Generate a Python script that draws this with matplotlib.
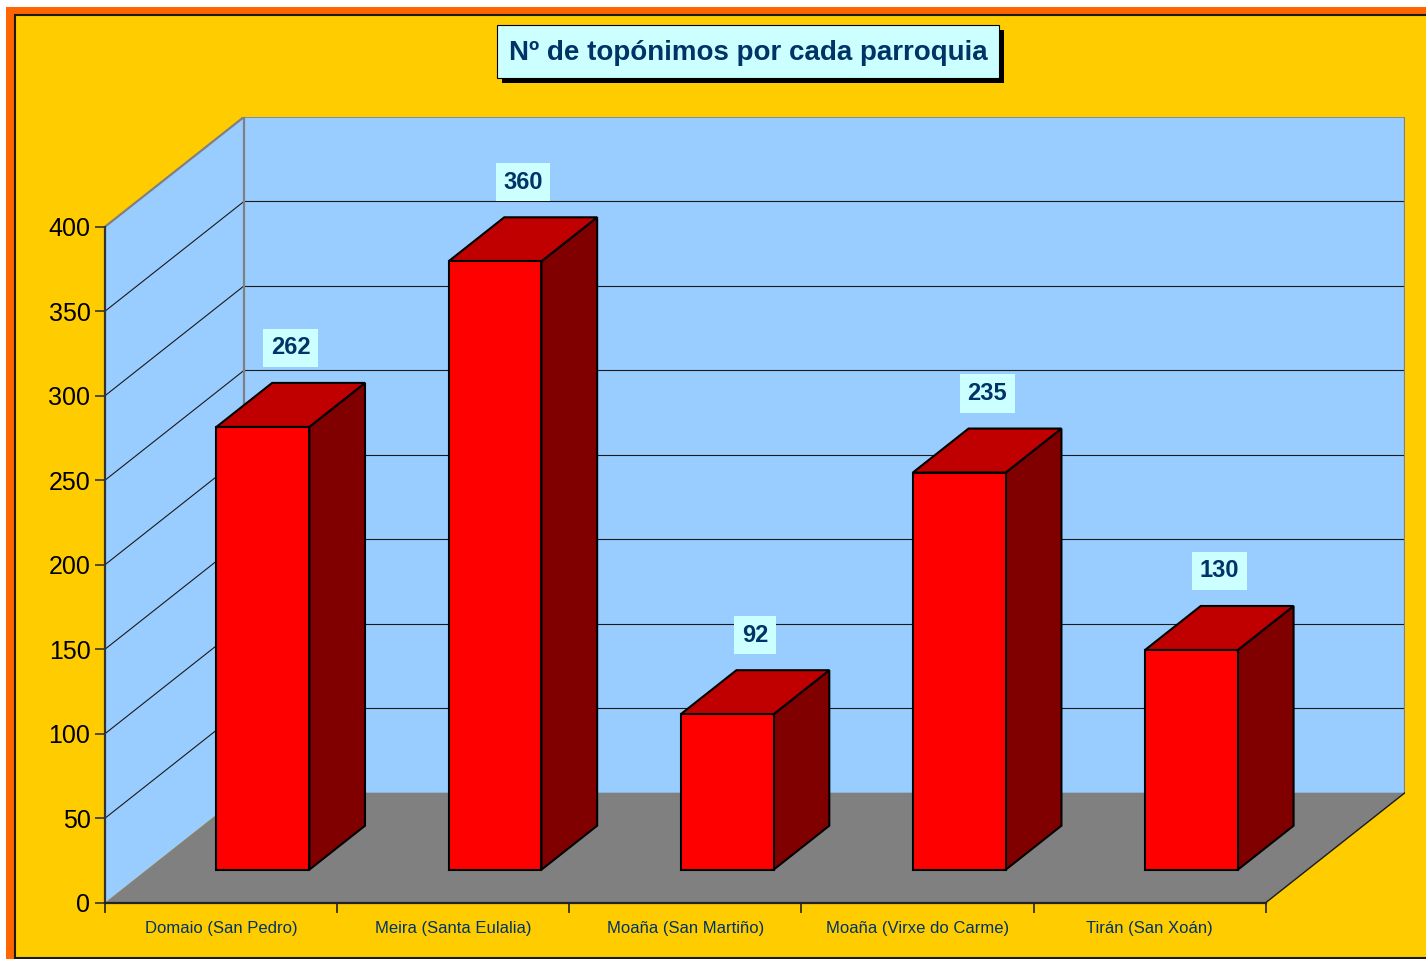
import matplotlib
matplotlib.use("Agg")
import matplotlib.pyplot as plt
from matplotlib.patches import Polygon, Rectangle

plt.rcParams['font.family'] = ['Liberation Sans', 'DejaVu Sans']

# ---- data ----
categories = ["Domaio (San Pedro)", "Meira (Santa Eulalia)", "Moaña (San Martiño)",
              "Moaña (Virxe do Carme)", "Tirán (San Xoán)"]
values = [262, 360, 92, 235, 130]
y_ticks = [0, 50, 100, 150, 200, 250, 300, 350, 400]
title = "Nº de topónimos por cada parroquia"

# ---- style ----
W, H = 1426, 959
C_OUTER = "#FF6600"
C_AREA = "#FFCC00"
C_WALL = "#99CCFF"
C_FLOOR = "#808080"
C_FRONT = "#FF0000"
C_TOP = "#C00000"
C_SIDE = "#800000"
C_LABEL_BG = "#CCFFFF"
C_NAVY = "#003366"

DX = 0.6      # depth offset in category units
DY = 65.1     # depth offset in value units
YMAX = 400
D0, D1 = 0.3, 0.7   # bar depth extent
BW = 0.4            # bar width (category units)

fig = plt.figure(figsize=(W / 100, H / 100), dpi=100)
fig.patch.set_facecolor("white")


def fpx(x, y):
    return (x / W, 1 - y / H)


def frect(x0, y0, x1, y1, **kw):
    a = fpx(x0, y1)
    r = Rectangle(a, (x1 - x0) / W, (y1 - y0) / H, transform=fig.transFigure, **kw)
    fig.add_artist(r)
    return r


# outer frame and chart area
frect(6, 7, 1460, 990, facecolor=C_OUTER, edgecolor="none", zorder=0)
frect(14.5, 15, 1460, 957.5, facecolor=C_AREA, edgecolor="#1a1a1a", linewidth=1.5, zorder=0.5)

# plot axes (front plane origin at pixel 105, 902.7; back wall extends to 1405, 116.7)
left, right, top, bottom = 105, 1405, 116.7, 902.7
ax = fig.add_axes([left / W, 1 - bottom / H, (right - left) / W, (bottom - top) / H])
ax.set_zorder(2)
ax.set_facecolor("none")
n = len(categories)
ax.set_xlim(0, n + DX)
ax.set_ylim(0, YMAX + DY)

# walls & floor
ax.add_patch(Polygon([(0, 0), (0, YMAX), (DX, YMAX + DY), (DX, DY)], closed=True,
                     facecolor=C_WALL, edgecolor="none", zorder=1))
ax.add_patch(Polygon([(DX, DY), (DX, YMAX + DY), (n + DX, YMAX + DY), (n + DX, DY)], closed=True,
                     facecolor=C_WALL, edgecolor="none", zorder=1))
ax.add_patch(Polygon([(0, 0), (n, 0), (n + DX, DY), (DX, DY)], closed=True,
                     facecolor=C_FLOOR, edgecolor="none", zorder=1))

# gridlines
for v in y_ticks[1:-1]:
    ax.plot([0, DX], [v, v + DY], color="#1a1a1a", lw=0.8, zorder=2)
    ax.plot([DX, n + DX], [v + DY, v + DY], color="#1a1a1a", lw=0.8, zorder=2)

# wall outlines
ax.plot([0, DX, n + DX, n + DX], [YMAX, YMAX + DY, YMAX + DY, DY], color="#808080", lw=1.6, zorder=2)
ax.plot([DX, DX], [DY, YMAX + DY], color="#808080", lw=1.6, zorder=2)
ax.plot([n, n + DX], [0, DY], color="#1a1a1a", lw=1.0, zorder=2)

# bars
for i, v in enumerate(values):
    x0 = i + (1 - BW) / 2
    x1 = x0 + BW
    f = [(x0 + D0 * DX, D0 * DY), (x1 + D0 * DX, D0 * DY), (x1 + D0 * DX, v + D0 * DY), (x0 + D0 * DX, v + D0 * DY)]
    t = [(x0 + D0 * DX, v + D0 * DY), (x1 + D0 * DX, v + D0 * DY), (x1 + D1 * DX, v + D1 * DY), (x0 + D1 * DX, v + D1 * DY)]
    s = [(x1 + D0 * DX, D0 * DY), (x1 + D1 * DX, D1 * DY), (x1 + D1 * DX, v + D1 * DY), (x1 + D0 * DX, v + D0 * DY)]
    for poly, c in ((s, C_SIDE), (t, C_TOP), (f, C_FRONT)):
        ax.add_patch(Polygon(poly, closed=True, facecolor=c, edgecolor="black", lw=1.5,
                             joinstyle="miter", zorder=3))
    ax.annotate(str(v), xy=(i + 0.5 + 0.5 * DX, v + 0.5 * DY), xytext=(0, 57),
                textcoords="offset pixels", ha="center", va="center",
                fontsize=17, fontweight="bold", color=C_NAVY, zorder=5,
                bbox=dict(boxstyle="square,pad=0.32", facecolor=C_LABEL_BG, edgecolor="none"))

# axes styling
for sp in ("top", "right"):
    ax.spines[sp].set_visible(False)
ax.spines["left"].set_bounds(0, YMAX)
ax.spines["bottom"].set_bounds(0, n)
ax.spines["left"].set_color("#333333")
ax.spines["bottom"].set_color("#222222")
ax.spines["left"].set_linewidth(1.6)
ax.spines["bottom"].set_linewidth(1.6)
ax.spines["left"].set_zorder(4)
ax.spines["bottom"].set_zorder(4)

ax.set_yticks(y_ticks)
ax.set_yticklabels([str(v) for v in y_ticks])
ax.tick_params(axis="y", which="major", length=7.5, width=1.2, color="#333333",
               labelsize=18, labelcolor="black", pad=3)

ax.set_xticks(range(n + 1))
ax.set_xticklabels([""] * (n + 1))
ax.set_xticks([i + 0.5 for i in range(n)], minor=True)
ax.set_xticklabels(categories, minor=True)
ax.tick_params(axis="x", which="major", length=7.5, width=1.2, color="#222222")
ax.tick_params(axis="x", which="minor", length=0, labelsize=12, labelcolor=C_NAVY, pad=13)

# title box with shadow
frect(502, 30, 1004, 83, facecolor="black", edgecolor="none", zorder=6)
frect(497, 25, 999, 78, facecolor=C_LABEL_BG, edgecolor="black", linewidth=0.8, zorder=7)
fig.text(748 / W, 1 - 60 / H, title, ha="center", va="baseline", fontsize=20,
         fontweight="bold", color=C_NAVY, zorder=8)

fig.savefig("out.png", dpi=100, facecolor=fig.get_facecolor())
